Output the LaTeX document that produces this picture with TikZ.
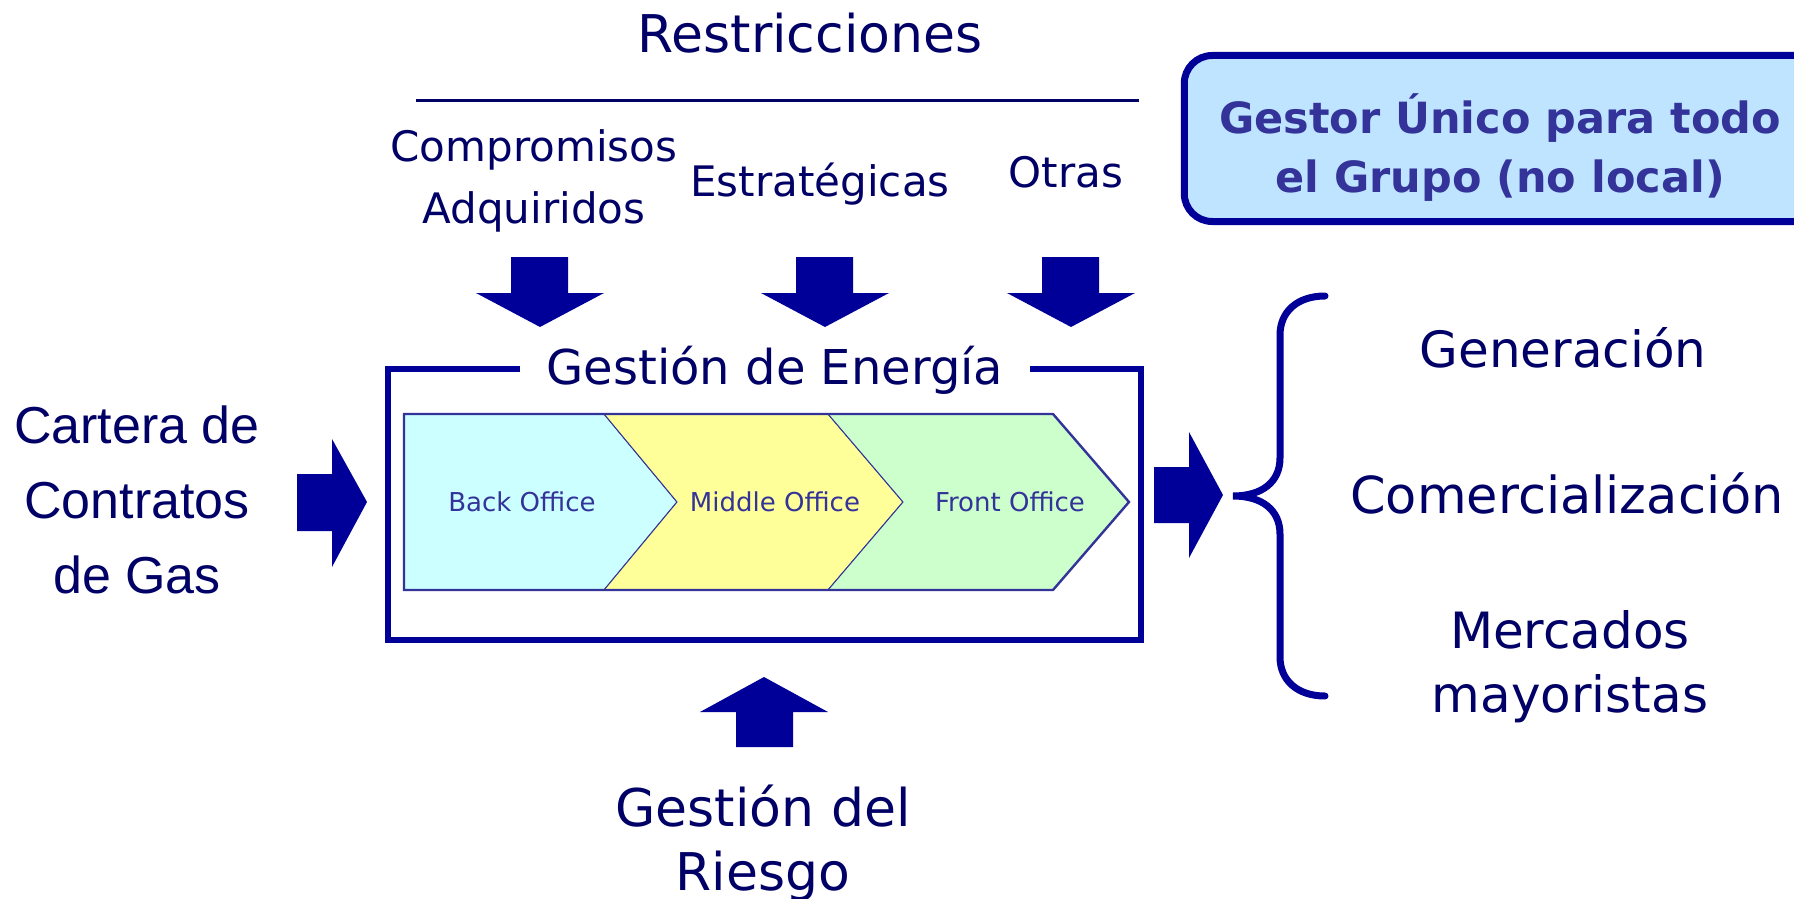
\documentclass[tikz,border=0pt]{standalone}
\usepackage{fontspec}
\setmainfont{DejaVu Sans}
\newfontfamily\arialfont{Liberation Sans}
\usepackage{xcolor}
\usepackage{tikz}
\usetikzlibrary{positioning}
\definecolor{navytext}{RGB}{0, 0, 102}
\definecolor{arrowblue}{RGB}{0, 0, 153}
\definecolor{officeblue}{RGB}{51, 51, 153}
\definecolor{gestorfill}{RGB}{191, 228, 255}
\definecolor{backcyan}{RGB}{204, 255, 255}
\definecolor{middleyellow}{RGB}{255, 255, 153}
\definecolor{frontgreen}{RGB}{204, 255, 204}

\begin{document}
\begin{tikzpicture}[
    x=0.5pt, y=-0.5pt,
    label/.style={text=navytext, inner sep=0pt, anchor=base, align=center},
    office/.style={text=officeblue, inner sep=0pt, anchor=base, font=\fontsize{13}{16}\selectfont},
    blockarrow/.style={fill=arrowblue},
    chevron/.style={draw=officeblue, line width=0.5pt, line join=miter}
]
    \useasboundingbox (0,0) rectangle (1794,899);
    \clip (0,0) rectangle (1794,899);

    % Restricciones (base anchor = last line)
    \node[label, font=\fontsize{26}{32}\selectfont] (restr) at (810,53) {Restricciones};
    \coordinate (ruleL) at (416,101);
    \coordinate (ruleR) at (1139,101);
    \draw[navytext, line width=1.5pt] (ruleL) -- (ruleR);
    \node[label, font=\fontsize{21}{31}\selectfont] (comp) at (534,223) {Compromisos\\Adquiridos};
    \node[label, font=\fontsize{21}{31}\selectfont] (estr) at (820,197) {Estratégicas};
    \node[label, font=\fontsize{21}{31}\selectfont] (otras) at (1066,187) {Otras};

    % Gestor unico
    \node[draw=arrowblue, fill=gestorfill, line width=3.5pt, rounded corners=14pt,
          minimum width=327.75pt, minimum height=83pt, inner sep=0pt] (gestorbox) at (1512,138.5) {};
    \node[label, text=officeblue, font=\bfseries\fontsize{21.5}{29.5}\selectfont] (gestor) at (1500,192)
        {Gestor Único para todo\\el Grupo (no local)};

    % down arrows
    \foreach \x in {540,825,1071} {
        \fill[blockarrow] (\x-29,257) -- (\x+28,257) -- (\x+28,293) -- (\x+64,293)
            -- (\x,327) -- (\x-64,293) -- (\x-29,293) -- cycle;
    }

    % Gestion de Energia
    \node[draw=arrowblue, line width=3.4pt, minimum width=376.5pt, minimum height=135.5pt,
          inner sep=0pt] (energia) at (764.5,504.5) {};
    \node[fill=white, inner sep=0pt, minimum width=255pt, text=navytext,
          font=\fontsize{24}{28}\selectfont, anchor=base] (energiaT) at (775,384) {Gestión de Energía};

    % value chain
    \fill[backcyan, chevron] (404,414) -- (604,414) -- (677,502) -- (604,590) -- (404,590) -- cycle;
    \fill[middleyellow, chevron] (604,414) -- (828,414) -- (903,502) -- (828,590) -- (604,590) -- (677,502) -- cycle;
    \fill[frontgreen, chevron] (828,414) -- (1053,414) -- (1129,502) -- (1053,590) -- (828,590) -- (903,502) -- cycle;
    \draw[officeblue, line width=1.2pt] (404,414) -- (1053,414) -- (1129,502) -- (1053,590) -- (404,590) -- cycle;
    \node[office] (back) at (522,511) {Back Office};
    \node[office] (middle) at (775,511) {Middle Office};
    \node[office] (front) at (1010,511) {Front Office};

    % Cartera
    \node[label, font=\arialfont\fontsize{26}{37.5}\selectfont] (cartera) at (137,593) {Cartera de\\Contratos\\de Gas};
    \fill[blockarrow] (297,474) -- (332,474) -- (332,439) -- (367,502) -- (332,567) -- (332,531) -- (297,531) -- cycle;

    % salida
    \fill[blockarrow] (1154,467) -- (1189,467) -- (1189,432) -- (1223,495) -- (1189,558) -- (1189,523) -- (1154,523) -- cycle;
    \draw[arrowblue, line width=3.5pt, line cap=round]
        (1325,296) .. controls (1297,296) and (1280,312) .. (1280,335) -- (1280,458)
        .. controls (1280,482) and (1262,496) .. (1233,496)
        .. controls (1262,496) and (1280,510) .. (1280,534) -- (1280,657)
        .. controls (1280,680) and (1297,696) .. (1325,696);
    \node[label, font=\fontsize{25}{32}\selectfont] (gen) at (1563,367) {Generación};
    \node[label, font=\fontsize{25.5}{32}\selectfont] (com) at (1567,513) {Comercialización};
    \node[label, font=\fontsize{25}{32}\selectfont] (merc) at (1570,712) {Mercados\\mayoristas};

    % Riesgo
    \fill[blockarrow] (736,747) -- (793,747) -- (793,712) -- (828,712) -- (764,677) -- (700,712) -- (736,712) -- cycle;
    \node[label, font=\fontsize{26}{32}\selectfont] (riesgo) at (763,890) {Gestión del\\Riesgo};

\end{tikzpicture}
\end{document}
